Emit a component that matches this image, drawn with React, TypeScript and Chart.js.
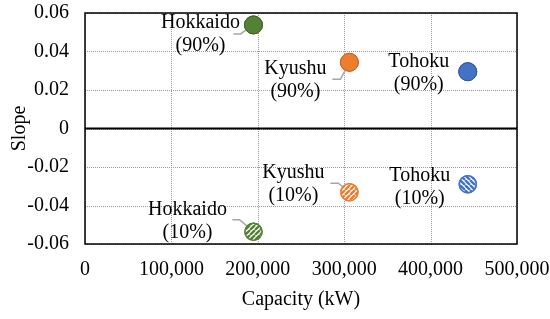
import React, { useEffect, useRef } from "react";
import { Chart, registerables } from "chart.js";

Chart.register(...registerables);

const regions = ["Hokkaido", "Kyushu", "Tohoku"];
const capacity = [195000, 306000, 443000];
const slope90 = [0.0538, 0.0344, 0.0295];
const slope10 = [-0.0536, -0.0331, -0.029];
const pctLabels = ["(90%)", "(10%)"];
const xTicks = [0, 100000, 200000, 300000, 400000, 500000];
const yTicks = [-0.06, -0.04, -0.02, 0, 0.02, 0.04, 0.06];

const fills = ["#548235", "#ED7D31", "#4472C4"];
const borders = ["#3d6126", "#c9641f", "#2f5597"];
const stripeDir = [1, 1, -1];

// label layout offsets relative to each point
const layout90 = [
  { dx: -53, dy: -2, leader: [[-20, 9], [-13, 9]] },
  { dx: -54, dy: 6, leader: [[-17, 17], [-9, 17]] },
  { dx: -49, dy: -10, leader: null },
];
const layout10 = [
  { dx: -66, dy: -22, leader: [[-21, -12], [-14, -12]] },
  { dx: -56, dy: -19, leader: [[-19, -9], [-11, -9]] },
  { dx: -48, dy: -9, leader: null },
];

function makePattern(color: string, dir: number): CanvasPattern | string {
  const c = document.createElement("canvas");
  const s = 5;
  c.width = s;
  c.height = s;
  const g = c.getContext("2d");
  if (!g) return color;
  g.fillStyle = "#ffffff";
  g.fillRect(0, 0, s, s);
  g.strokeStyle = color;
  g.lineWidth = 2.4;
  g.beginPath();
  for (let k = -1; k <= 1; k++) {
    if (dir > 0) {
      g.moveTo(k * s, s);
      g.lineTo(k * s + s, 0);
    } else {
      g.moveTo(k * s, 0);
      g.lineTo(k * s + s, s);
    }
  }
  g.stroke();
  const ctx = document.createElement("canvas").getContext("2d");
  return ctx ? (ctx.createPattern(c, "repeat") as CanvasPattern) : color;
}

const FONT = "'Liberation Serif', 'Times New Roman', serif";
const FS = 20;

const zeroPad = (s: any) => {
  s.paddingTop = 0;
  s.paddingBottom = 0;
  s.paddingLeft = 0;
  s.paddingRight = 0;
};

export default function App() {
  const ref = useRef<HTMLCanvasElement | null>(null);
  useEffect(() => {
    document.body.style.margin = "0";
    const canvas = ref.current;
    if (!canvas) return;
    const patterns = fills.map((f, i) => makePattern(f, stripeDir[i]));

    const labelPlugin = {
      id: "labels",
      beforeDatasetsDraw(chart: any) {
        const { ctx, chartArea, scales } = chart;
        ctx.save();
        ctx.strokeStyle = "#9a9a9a";
        ctx.lineWidth = 1;
        ctx.setLineDash([1, 1]);
        ctx.beginPath();
        xTicks.forEach((v) => {
          const x = Math.round(scales.x.getPixelForValue(v)) + 0.5;
          ctx.moveTo(x, chartArea.top);
          ctx.lineTo(x, chartArea.bottom);
        });
        yTicks.forEach((v) => {
          const y = Math.round(scales.y.getPixelForValue(v)) + 0.5;
          ctx.moveTo(chartArea.left, y);
          ctx.lineTo(chartArea.right, y);
        });
        ctx.stroke();
        ctx.setLineDash([]);
        const y0 = scales.y.getPixelForValue(0);
        ctx.strokeStyle = "#000";
        ctx.lineWidth = 2;
        ctx.beginPath();
        ctx.moveTo(chartArea.left, y0);
        ctx.lineTo(chartArea.right, y0);
        ctx.stroke();
        ctx.lineWidth = 1.5;
        ctx.strokeRect(chartArea.left, chartArea.top, chartArea.right - chartArea.left, chartArea.bottom - chartArea.top);
        ctx.restore();
      },
      afterDatasetsDraw(chart: any) {
        const { ctx } = chart;
        ctx.save();
        ctx.font = `${FS}px ${FONT}`;
        ctx.textAlign = "center";
        ctx.textBaseline = "middle";
        [0, 1].forEach((di) => {
          const meta = chart.getDatasetMeta(di);
          const lay = di === 0 ? layout90 : layout10;
          meta.data.forEach((pt: any, i: number) => {
            const L = lay[i];
            const px = pt.x, py = pt.y;
            if (L.leader) {
              ctx.strokeStyle = "#a6a6a6";
              ctx.lineWidth = 1.5;
              ctx.beginPath();
              ctx.moveTo(px + L.leader[0][0], py + L.leader[0][1]);
              ctx.lineTo(px + L.leader[1][0], py + L.leader[1][1]);
              ctx.lineTo(px, py);
              ctx.stroke();
            }
            ctx.fillStyle = "#000";
            ctx.fillText(regions[i], px + L.dx, py + L.dy);
            ctx.fillText(pctLabels[di], px + L.dx, py + L.dy + 23);
          });
        });
        ctx.restore();
        chart.getDatasetMeta(0).data.forEach((p: any) => p.draw(ctx, chart.chartArea));
        chart.getDatasetMeta(1).data.forEach((p: any) => p.draw(ctx, chart.chartArea));
      },
    };

    const chart = new Chart(canvas, {
      type: "scatter",
      data: {
        datasets: [
          {
            label: "90%",
            data: capacity.map((c, i) => ({ x: c, y: slope90[i] })),
            pointBackgroundColor: fills,
            pointBorderColor: borders,
            pointBorderWidth: 1,
            pointRadius: 9,
          },
          {
            label: "10%",
            data: capacity.map((c, i) => ({ x: c, y: slope10[i] })),
            pointBackgroundColor: patterns as any,
            pointBorderColor: fills,
            pointBorderWidth: 1.5,
            pointRadius: 8.5,
          },
        ],
      },
      options: {
        animation: false,
        responsive: false,
        layout: { padding: { top: 13, right: 33, left: 0, bottom: 0 } },
        plugins: { legend: { display: false }, tooltip: { enabled: false } },
        scales: {
          x: {
            type: "linear",
            min: 0,
            max: 500000,
            afterBuildTicks: (s: any) => {
              s.ticks = xTicks.map((v) => ({ value: v }));
            },
            afterFit: (s: any) => {
              s.height = 75;
              zeroPad(s);
            },
            ticks: {
              padding: 14,
              color: "#000",
              font: { family: FONT, size: FS },
              callback: (v: any) => Number(v).toLocaleString("en-US"),
            },
            grid: { display: false, drawTicks: false },
            border: { display: false },
            title: {
              display: true,
              text: "Capacity (kW)",
              color: "#000",
              font: { family: FONT, size: FS },
              padding: { top: 4, bottom: 7 },
            },
          },
          y: {
            type: "linear",
            min: -0.06,
            max: 0.06,
            afterBuildTicks: (s: any) => {
              s.ticks = yTicks.map((v) => ({ value: v }));
            },
            afterFit: (s: any) => {
              s.width = 85;
              zeroPad(s);
            },
            ticks: {
              padding: 16,
              color: "#000",
              font: { family: FONT, size: FS },
              callback: (v: any) => (Math.abs(Number(v)) < 1e-9 ? "0" : Number(v).toFixed(2)),
            },
            grid: { display: false, drawTicks: false },
            border: { display: false },
            title: {
              display: true,
              text: "Slope",
              color: "#000",
              font: { family: FONT, size: FS },
              padding: { top: 8, bottom: 0 },
            },
          },
        },
      },
      plugins: [labelPlugin],
    });
    return () => chart.destroy();
  }, []);
  return (
    <div style={{ width: 550, height: 319 }}>
      <canvas ref={ref} width={550} height={319} style={{ width: 550, height: 319, display: "block" }} />
    </div>
  );
}
